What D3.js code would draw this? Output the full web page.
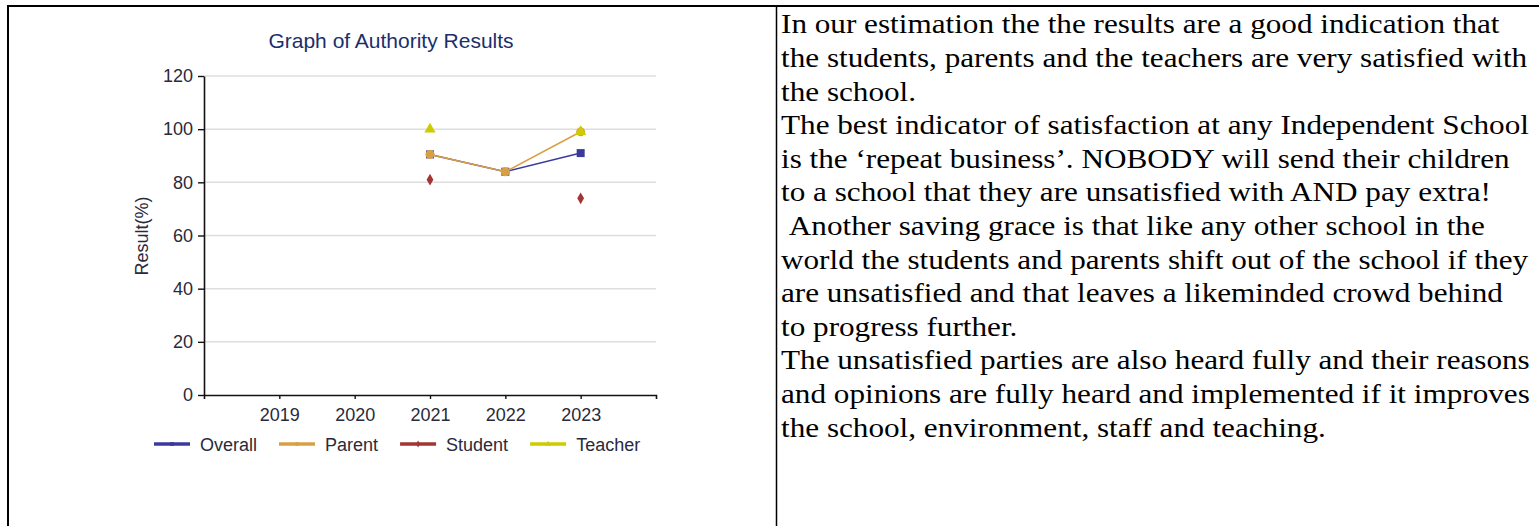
<!DOCTYPE html>
<html>
<head>
<meta charset="utf-8">
<script src="https://cdn.jsdelivr.net/npm/d3@7/dist/d3.min.js"></script>
<style>
  html, body { margin: 0; padding: 0; background: #ffffff; overflow: hidden; }
  svg { display: block; }
</style>
</head>
<body>
<svg id="page" width="1539" height="526"></svg>
<script>
// ---- data ----
const categories = ["2019", "2020", "2021", "2022", "2023"];
const overall = [null, null, 90.5, 84, 91];
const parent  = [null, null, 90.5, 84, 99];
const student = [null, null, 81, null, 74];
const teacher = [null, null, 100, null, 99];
const seriesNames = ["Overall", "Parent", "Student", "Teacher"];
const yTicks = [0, 20, 40, 60, 80, 100, 120];
const titleText = "Graph of Authority Results";
const yLabel = "Result(%)";
const textLines = [
  "In our estimation the the results are a good indication that",
  "the students, parents and the teachers are very satisfied with",
  "the school.",
  "The best indicator of satisfaction at any Independent School",
  "is the \u2018repeat business\u2019. NOBODY will send their children",
  "to a school that they are unsatisfied with AND pay extra!",
  "\u00a0Another saving grace is that like any other school in the",
  "world the students and parents shift out of the school if they",
  "are unsatisfied and that leaves a likeminded crowd behind",
  "to progress further.",
  "The unsatisfied parties are also heard fully and their reasons",
  "and opinions are fully heard and implemented if it improves",
  "the school, environment, staff and teaching."
];

// ---- styles ----
const colors = { Overall: "#3a3a9e", Parent: "#d9a043", Student: "#a33535", Teacher: "#cccc00" };
const symbols = { Overall: d3.symbolSquare, Parent: d3.symbolCircle, Student: d3.symbolDiamond, Teacher: d3.symbolTriangle };
const symSizes = { Overall: 64, Parent: 64, Student: 40, Teacher: 55 };
const sans = "'Liberation Sans', Arial, sans-serif";
const serif = "'Liberation Serif', 'Times New Roman', serif";

const svg = d3.select("#page");

// table borders
svg.append("rect").attr("x", 8).attr("y", 6).attr("width", 1600).attr("height", 600)
  .attr("fill", "none").attr("stroke", "#000").attr("stroke-width", 2);
svg.append("line").attr("x1", 776.5).attr("x2", 776.5).attr("y1", 6).attr("y2", 526)
  .attr("stroke", "#000").attr("stroke-width", 1.5);

// ---- chart ----
const plot = { left: 204, right: 656, top: 76, bottom: 395 };
const x = d3.scalePoint().domain(categories).range([plot.left, plot.right]).padding(1);
const y = d3.scaleLinear().domain([0, 120]).range([plot.bottom, plot.top]);

// gridlines
svg.append("g").selectAll("line").data(yTicks.filter(d => d > 0)).join("line")
  .attr("x1", plot.left).attr("x2", plot.right)
  .attr("y1", d => y(d)).attr("y2", d => y(d))
  .attr("stroke", "#dedede").attr("stroke-width", 1.5);

// y axis
const yAxis = svg.append("g").attr("transform", `translate(${plot.left},0)`)
  .call(d3.axisLeft(y).tickValues(yTicks).tickSize(6).tickSizeOuter(0).tickPadding(5));
yAxis.select(".domain").attr("stroke", "#111").attr("stroke-width", 1.6);
yAxis.selectAll(".tick line").attr("stroke", "#111").attr("stroke-width", 1.4);
yAxis.selectAll(".tick text").attr("fill", "#2a2a3a").style("font-family", sans).style("font-size", "18px");

// x axis
const xAxis = svg.append("g").attr("transform", `translate(0,${plot.bottom})`)
  .call(d3.axisBottom(x).tickSize(4).tickSizeOuter(4).tickPadding(9));
xAxis.select(".domain").attr("stroke", "#111").attr("stroke-width", 1.6);
xAxis.selectAll(".tick line").attr("stroke", "#111").attr("stroke-width", 1.4);
xAxis.selectAll(".tick text").attr("fill", "#2a2a3a").style("font-family", sans).style("font-size", "18px");

// title
svg.append("text").attr("x", 391).attr("y", 47.5).attr("text-anchor", "middle")
  .style("font-family", sans).style("font-size", "21px").attr("fill", "#1b2f6b").text(titleText);

// y label
svg.append("text").attr("transform", "translate(147.5,236) rotate(-90)").attr("text-anchor", "middle")
  .style("font-family", sans).style("font-size", "18px").attr("fill", "#2a2a3a").text(yLabel);

// series
const seriesData = { Overall: overall, Parent: parent, Student: student, Teacher: teacher };
const line = d3.line().defined(d => d.v !== null).x(d => x(d.c)).y(d => y(d.v));
seriesNames.forEach(name => {
  const pts = categories.map((c, i) => ({ c, v: seriesData[name][i] }));
  svg.append("path").datum(pts).attr("d", line).attr("fill", "none")
    .attr("stroke", colors[name]).attr("stroke-width", 1.6);
  svg.append("g").selectAll("path").data(pts.filter(d => d.v !== null)).join("path")
    .attr("transform", d => `translate(${x(d.c)},${y(d.v)})`)
    .attr("d", d3.symbol().type(symbols[name]).size(symSizes[name]))
    .attr("fill", colors[name]);
});

// legend
let lx = 154;
const ly = 444;
seriesNames.forEach(name => {
  const g = svg.append("g");
  g.append("line").attr("x1", lx).attr("x2", lx + 36).attr("y1", ly).attr("y2", ly)
    .attr("stroke", colors[name]).attr("stroke-width", 3.5);
  g.append("path").attr("transform", `translate(${lx + 18},${ly})`)
    .attr("d", d3.symbol().type(symbols[name]).size(14)).attr("fill", colors[name]);
  const t = g.append("text").attr("x", lx + 46).attr("y", ly + 7)
    .style("font-family", sans).style("font-size", "18px").attr("fill", "#2a2a3a").text(name);
  lx += 46 + t.node().getComputedTextLength() + 22;
});

// ---- right text ----
svg.append("g").attr("transform", "translate(781,0) scale(1.155,1)")
  .selectAll("text").data(textLines).join("text")
  .attr("x", 0).attr("y", (d, i) => 33.5 + i * 33.6)
  .style("font-family", serif).style("font-size", "27px").attr("fill", "#000")
  .style("white-space", "pre").text(d => d);
</script>
</body>
</html>
